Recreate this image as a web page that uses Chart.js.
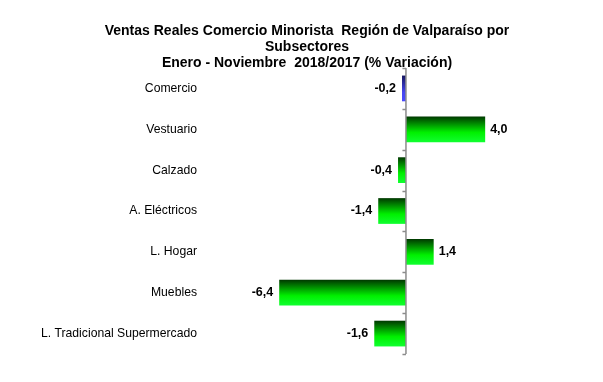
<!DOCTYPE html>
<html>
<head>
<meta charset="utf-8">
<title>Ventas Reales Comercio Minorista</title>
<script src="https://cdn.jsdelivr.net/npm/chart.js@4/dist/chart.umd.min.js"></script>
<style>
    html, body { margin: 0; padding: 0; background: #fff; }
    #wrap { width: 603px; height: 382px; }
</style>
</head>
<body>
<div id="wrap"><canvas id="ventas"></canvas></div>
<script>
'use strict';

const CATEGORIES = ['Comercio', 'Vestuario', 'Calzado', 'A. Eléctricos', 'L. Hogar', 'Muebles', 'L. Tradicional Supermercado'];
const VARIACION = [-0.2, 4.0, -0.4, -1.4, 1.4, -6.4, -1.6];
const TITLE_LINES = [
    'Ventas Reales Comercio Minorista  Región de Valparaíso por',
    'Subsectores',
    'Enero - Noviembre  2018/2017 (% Variación)'
];

const BAR_PCT = 0.63;

function formatValue(v) {
    return v.toFixed(1).replace('.', ',');
}

// vertical gradient for each bar, computed from the category scale
function barGradient(context) {
    const chart = context.chart;
    const yScale = chart.scales.y;
    const i = context.dataIndex;
    const blue = i === 0;
    if (!yScale || yScale.height === undefined) {
        return blue ? '#3333cc' : '#00cc00';
    }
    const center = yScale.getPixelForTick(i);
    const half = (yScale.height / CATEGORIES.length) * BAR_PCT / 2;
    const g = chart.ctx.createLinearGradient(0, center - half, 0, center + half);
    if (blue) {
        g.addColorStop(0, '#15155e');
        g.addColorStop(0.65, '#4646f0');
        g.addColorStop(1, '#4a4aff');
    } else {
        g.addColorStop(0, '#003800');
        g.addColorStop(0.62, '#00f000');
        g.addColorStop(1, '#10ff30');
    }
    return g;
}

// zero line with small tick marks + value labels
const zeroAxisPlugin = {
    id: 'zeroAxis',
    afterDatasetsDraw(chart) {
        const ctx = chart.ctx;
        const x = chart.scales.x.getPixelForValue(0);
        const area = chart.chartArea;
        const band = (area.bottom - area.top) / CATEGORIES.length;
        ctx.save();
        ctx.strokeStyle = '#8c8c8c';
        ctx.lineWidth = 1.5;
        ctx.beginPath();
        ctx.moveTo(x, area.top);
        ctx.lineTo(x, area.bottom);
        for (let k = 0; k <= CATEGORIES.length; k++) {
            const y = Math.round(area.top + k * band) + 0.5;
            ctx.moveTo(x - 3.5, y);
            ctx.lineTo(x, y);
        }
        ctx.stroke();

        ctx.fillStyle = '#000';
        ctx.font = 'bold 12.5px "Liberation Sans", Arial, sans-serif';
        ctx.textBaseline = 'middle';
        const meta = chart.getDatasetMeta(0);
        meta.data.forEach((bar, i) => {
            const v = VARIACION[i];
            if (v >= 0) {
                ctx.textAlign = 'left';
                ctx.fillText(formatValue(v), bar.x + 5, bar.y);
            } else {
                ctx.textAlign = 'right';
                ctx.fillText(formatValue(v), bar.x - 6, bar.y);
            }
        });
        ctx.restore();
    }
};

new Chart(document.getElementById('ventas'), {
    type: 'bar',
    data: {
        labels: CATEGORIES,
        datasets: [{
            data: VARIACION,
            backgroundColor: barGradient,
            borderWidth: 0,
            barPercentage: BAR_PCT,
            categoryPercentage: 1
        }]
    },
    options: {
        indexAxis: 'y',
        responsive: true,
        maintainAspectRatio: false,
        animation: false,
        layout: {
            padding: { left: 11, right: 0, top: 0, bottom: 28 }
        },
        scales: {
            x: {
                display: false,
                min: -10.4,
                max: 9.95
            },
            y: {
                grid: { display: false, drawTicks: false },
                border: { display: false },
                ticks: {
                    padding: 3,
                    color: '#000',
                    font: { family: '"Liberation Sans", Arial, sans-serif', size: 12.2 }
                },
                afterFit(scale) {
                    scale.width = 189;
                }
            }
        },
        plugins: {
            legend: { display: false },
            tooltip: { enabled: false },
            title: {
                display: true,
                text: TITLE_LINES,
                color: '#000',
                font: { family: '"Liberation Sans", Arial, sans-serif', size: 14, weight: 'bold', lineHeight: 1.143 },
                padding: { top: 23, bottom: -3 }
            }
        }
    },
    plugins: [zeroAxisPlugin]
});
</script>
</body>
</html>
